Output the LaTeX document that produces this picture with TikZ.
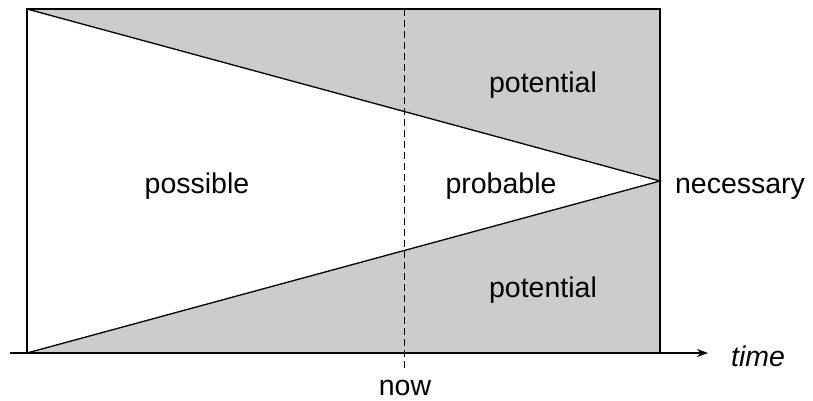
\documentclass[tikz,border=0pt]{standalone}
\usepackage{fontspec}
\setmainfont{Liberation Sans}
\usetikzlibrary{arrows.meta}
\definecolor{regiongray}{HTML}{CCCCCC}
\tikzset{
  frame/.style={line width=1.3pt, line join=miter},
  lbl/.style={font=\fontsize{28.5}{32}\selectfont, inner sep=0pt, anchor=base},
}
\begin{document}
\begin{tikzpicture}[x=1pt, y=-1pt]
  \useasboundingbox (0,0) rectangle (813,401);
  % corners of the frame and the point where the cone closes
  \coordinate (tl) at (27,9);
  \coordinate (tr) at (660,9);
  \coordinate (bl) at (27,353);
  \coordinate (br) at (660,353);
  \coordinate (apex) at (660,181);
  \coordinate (axstart) at (10,353);
  \coordinate (axend) at (708,353);
  \coordinate (nowtop) at (404,9);
  \coordinate (nowbot) at (404,371);
  % shaded regions outside the cone
  \fill[regiongray] (tl) -- (tr) -- (apex) -- cycle;
  \fill[regiongray] (bl) -- (br) -- (apex) -- cycle;
  % frame and cone edges
  \draw[frame] (bl) -- (tl) -- (tr) -- (br);
  \draw[frame] (tl) -- (apex) -- (bl);
  % time axis
  \draw[line width=1.3pt, -{Stealth[length=11pt,width=8pt]}] (axstart) -- (axend);
  % present moment
  \draw[line width=1pt, dash pattern=on 7pt off 4pt] (nowtop) -- (nowbot);
  % labels
  \node[lbl] (pot1) at (543,93) {potential};
  \node[lbl] (possible) at (197,193) {possible};
  \node[lbl] (probable) at (501,193) {probable};
  \node[lbl] (necessary) at (740,193) {necessary};
  \node[lbl] (pot2) at (543,297) {potential};
  \node[lbl, font=\fontsize{28.5}{32}\selectfont\itshape] (time) at (758,366) {time};
  \node[lbl] (now) at (405,395) {now};
\end{tikzpicture}
\end{document}
